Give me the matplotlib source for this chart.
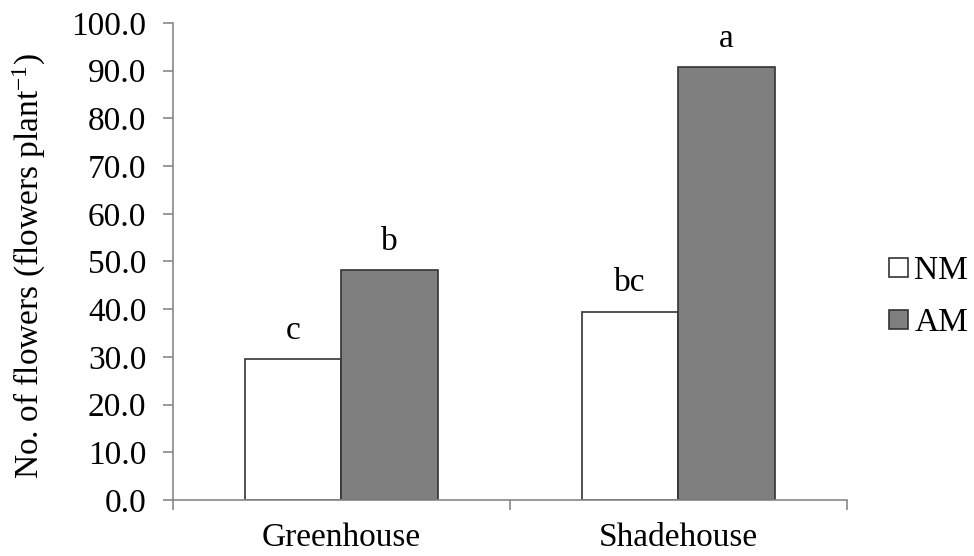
import numpy as np
import matplotlib
matplotlib.use("Agg")
import matplotlib.pyplot as plt

plt.rcParams['font.family'] = ['Liberation Serif', 'DejaVu Serif']
plt.rcParams['mathtext.fontset'] = 'custom'
plt.rcParams['mathtext.rm'] = 'Liberation Serif'
plt.rcParams['mathtext.it'] = 'Liberation Serif:italic'

sites = ["Greenhouse", "Shadehouse"]
treatments = ["NM", "AM"]
nm_values = [29.5, 39.5]
am_values = [48.2, 90.7]
nm_letters = ["c", "bc"]
am_letters = ["b", "a"]

fs = 24
fig = plt.figure(figsize=(9.74, 5.56), dpi=100)
ax = fig.add_axes([0.1773, 0.1007, 0.692, 0.858])

x = np.arange(len(sites))
w = 0.286
b1 = ax.bar(x - w / 2, nm_values, w, color="white", edgecolor="#333333", linewidth=1.2, label=treatments[0])
b2 = ax.bar(x + w / 2, am_values, w, color="#7f7f7f", edgecolor="#333333", linewidth=1.2, label=treatments[1])

for bars, letters in [(b1, nm_letters), (b2, am_letters)]:
    for rect, lab in zip(bars, letters):
        ax.annotate(lab, (rect.get_x() + rect.get_width() / 2, rect.get_height()),
                    xytext=(0, 20.5), textcoords="offset points",
                    ha="center", va="center", fontsize=fs)

ax.set_xlim(-0.5, 1.5)
ax.set_ylim(0, 100)
ax.set_yticks(np.arange(0, 101, 10))
ax.set_yticklabels(["%.1f" % v for v in np.arange(0, 101, 10)], fontsize=fs)
ax.set_xticks([-0.5, 0.5, 1.5])
ax.set_xticklabels([])
ax.set_xticks(x, minor=True)
ax.set_xticklabels(sites, minor=True, fontsize=fs)
ax.tick_params(axis="x", which="minor", length=0, pad=16)
ax.tick_params(axis="both", which="major", length=7, width=1.2, color="#888888", direction="out")
ax.tick_params(axis="y", pad=12)

for s in ["top", "right"]:
    ax.spines[s].set_visible(False)
for s in ["left", "bottom"]:
    ax.spines[s].set_color("#888888")
    ax.spines[s].set_linewidth(1.2)

ax.set_ylabel("No. of flowers (flowers plant$^{-1}$)", fontsize=fs, labelpad=16)
ax.yaxis.set_label_coords(-0.185, 0.49)

fig.legend(handles=[b1, b2], labels=treatments, loc="center left", bbox_to_anchor=(0.913, 0.466),
           frameon=False, fontsize=fs, handlelength=0.55, handleheight=0.5, handletextpad=0.2,
           labelspacing=0.65, borderaxespad=0, borderpad=0)

fig.savefig("out.png", dpi=100)
